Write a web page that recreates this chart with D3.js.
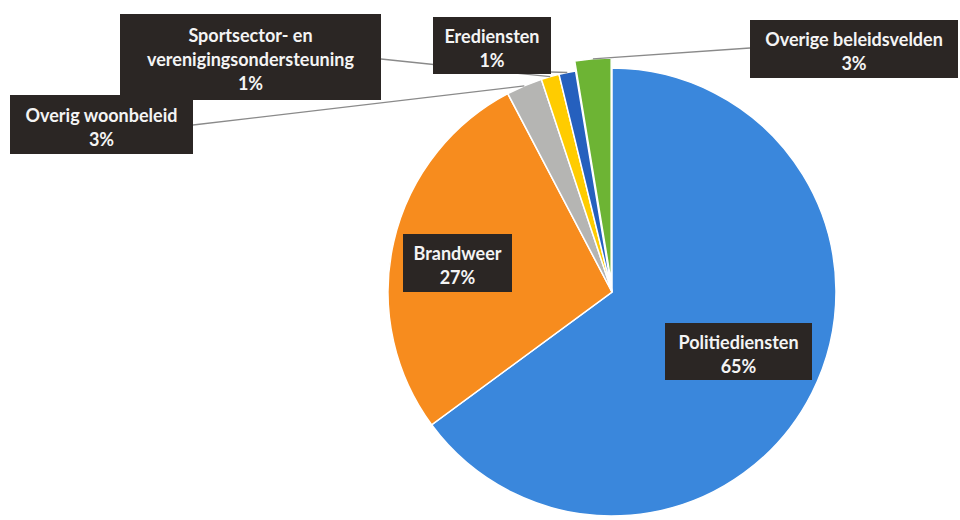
<!DOCTYPE html>
<html><head><meta charset="utf-8">
<script src="https://cdn.jsdelivr.net/npm/d3@7"></script>
<style>body{margin:0;background:#fff}svg{display:block}</style>
</head><body>
<svg id="c" width="960" height="520"></svg>
<script>
// ---- data ----
const categories = ["Politiediensten", "Brandweer", "Overig woonbeleid", "Sportsector- en verenigingsondersteuning", "Erediensten", "Overige beleidsvelden"];
const values = [64.9, 27.4, 2.6, 1.3, 1.2, 2.6];
const percentLabels = ["65%", "27%", "3%", "1%", "1%", "3%"];
const labelLines = [["Politiediensten"], ["Brandweer"], ["Overig woonbeleid"], ["Sportsector- en", "verenigingsondersteuning"], ["Erediensten"], ["Overige beleidsvelden"]];
const colors = ["#3a87dc", "#f78c1e", "#b5b5b3", "#ffcc00", "#2560be", "#6db434"];

// ---- layout ----
const cx = 612, cy = 292, R = 224;
const boxes = [
  {x: 665, y: 323, w: 147, h: 57},
  {x: 403, y: 234, w: 109, h: 58},
  {x: 10,  y: 95,  w: 183, h: 59},
  {x: 120, y: 14,  w: 261, h: 86},
  {x: 433, y: 17,  w: 118, h: 57},
  {x: 750, y: 20,  w: 208, h: 58}
];
const explode = [0, 0, 0, 0, 0, 10];
const leaderFrom = [null, null, [193, 125], [381, 59], [551, 72], [750, 48]];

const svg = d3.select("#c");
const g = svg.append("g").attr("transform", `translate(${cx},${cy})`);

const pie = d3.pie().sort(null).value(d => d).startAngle(0).endAngle(2 * Math.PI);
const arcs = pie(values);
const arc = d3.arc().innerRadius(0).outerRadius(R);

g.selectAll("path.slice").data(arcs).join("path")
  .attr("class", "slice")
  .attr("d", arc)
  .attr("fill", (d, i) => colors[i])
  .attr("stroke", "#fff")
  .attr("stroke-width", 1.5)
  .attr("transform", (d, i) => {
    const a = (d.startAngle + d.endAngle) / 2;
    return `translate(${explode[i] * Math.sin(a)},${-explode[i] * Math.cos(a)})`;
  });

// leader lines
const lines = svg.append("g");
arcs.forEach((d, i) => {
  if (!leaderFrom[i]) return;
  const a = (d.startAngle + d.endAngle) / 2;
  const rr = R + explode[i];
  const px = cx + rr * Math.sin(a), py = cy - rr * Math.cos(a);
  lines.append("line")
    .attr("x1", leaderFrom[i][0]).attr("y1", leaderFrom[i][1])
    .attr("x2", px).attr("y2", py)
    .attr("stroke", "#8a8a8a").attr("stroke-width", 1.3);
});

// label boxes
const lab = svg.append("g");
categories.forEach((c, i) => {
  const b = boxes[i];
  const gg = lab.append("g");
  gg.append("rect").attr("x", b.x).attr("y", b.y).attr("width", b.w).attr("height", b.h)
    .attr("fill", "#2b2624");
  const all = labelLines[i].concat([percentLabels[i]]);
  const n = all.length, sp = 24;
  const mid = b.y + b.h / 2 + 2;
  all.forEach((t, k) => {
    gg.append("text")
      .attr("x", b.x + b.w / 2)
      .attr("y", mid + (k - (n - 1) / 2) * sp)
      .attr("text-anchor", "middle")
      .attr("dominant-baseline", "central")
      .attr("fill", "#f4f4f4")
      .attr("font-family", "Lato, 'Open Sans', sans-serif")
      .attr("font-weight", "bold")
      .attr("font-size", 18)
      .text(t);
  });
});
</script>
</body></html>
